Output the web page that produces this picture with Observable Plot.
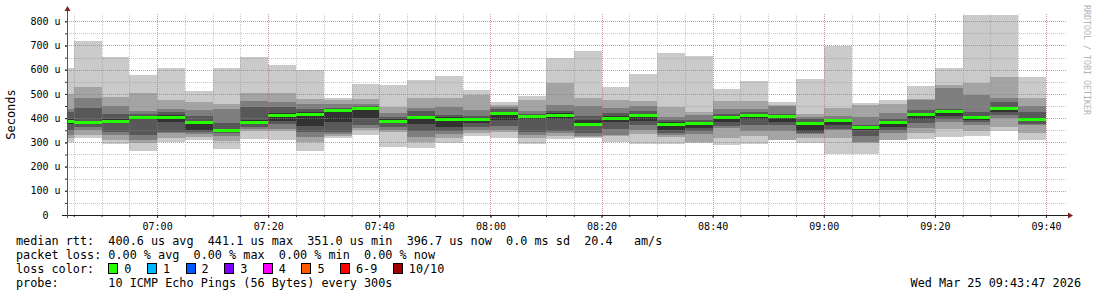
<!DOCTYPE html>
<html>
<head>
<meta charset="utf-8">
<script src="https://cdn.jsdelivr.net/npm/d3@7"></script>
<script src="https://cdn.jsdelivr.net/npm/@observablehq/plot@0.6"></script>
<style>
  html, body { margin: 0; padding: 0; background: #fff; }
  body { width: 1097px; height: 297px; overflow: hidden; position: relative; font-family: "DejaVu Sans Mono", monospace; }
  #chart { position: absolute; left: 0; top: 0; }
  .legend { position: absolute; left: 16px; top: 234px; font-size: 11.8px; line-height: 14px; white-space: pre; color: #000; }
  .date { position: absolute; right: 16px; top: 276px; font-size: 11.8px; line-height: 14px; white-space: pre; color: #000; }
  .box { display: inline-block; width: 8px; height: 9px; border: 1px solid #000; vertical-align: -1px; margin-right: 6px; }
  .item { margin-right: 15.5px; }
</style>
</head>
<body>
<div id="chart"></div>
<div class="legend" id="legend"></div>
<div class="date" id="date"></div>
<script>
// ---- data ----
const viewStart = "06:43:47";
const viewEnd = "09:43:47";
const dataEnd = "09:40:00";
const binStart = ["06:43:47","06:45","06:50","06:55","07:00","07:05","07:10","07:15","07:20","07:25","07:30","07:35",
  "07:40","07:45","07:50","07:55","08:00","08:05","08:10","08:15","08:20","08:25","08:30","08:35",
  "08:40","08:45","08:50","08:55","09:00","09:05","09:10","09:15","09:20","09:25","09:30","09:35"];
// sorted ping rtt per bin (microseconds), ping1 = fastest ... ping10 = slowest
const ping1  = [301,318,293,265,300,309,273,313,309,265,317,330,282,277,298,327,318,294,313,319,302,294,295,298,290,293,308,296,250,253,308,313,323,328,346,309];
const ping2  = [318,330,309,296,320,323,306,348,348,302,326,350,341,300,320,340,342,320,328,322,326,336,323,302,316,326,311,318,319,296,309,337,355,346,364,340];
const ping3  = [332,352,330,309,337,334,327,357,355,323,334,358,352,323,335,350,350,330,337,325,330,351,331,335,359,348,347,336,350,300,337,360,385,371,400,371];
const ping4  = [350,364,344,330,344,344,340,362,375,344,344,371,365,346,345,362,367,343,345,340,355,370,340,348,367,371,372,340,355,326,350,381,398,385,415,375];
const ping5  = [375,376,378,395,385,353,346,375,389,367,385,400,378,375,362,380,392,395,395,370,385,390,350,358,385,395,385,348,371,352,364,395,408,393,425,390];
const ping6  = [395,390,395,410,412,390,356,392,420,425,436,445,395,410,405,398,425,412,420,392,410,418,385,385,410,418,414,384,394,368,390,422,432,410,447,400];
const ping7  = [425,441,419,419,425,408,378,447,447,437,442,450,405,428,414,410,436,418,429,408,422,428,392,392,416,425,418,395,398,372,397,433,438,426,466,426];
const ping8  = [437,482,449,429,437,433,437,471,465,458,460,460,420,440,447,433,444,430,454,449,442,449,406,411,437,437,449,405,408,403,421,475,525,494,485,449];
const ping9  = [499,528,487,503,474,466,459,502,503,481,476,478,447,484,485,495,456,476,545,484,474,470,447,426,471,471,454,416,443,456,460,481,536,545,568,484];
const ping10 = [605,717,651,577,605,511,605,651,618,598,485,540,536,557,573,515,465,490,649,677,528,583,669,657,520,554,466,561,698,461,474,532,605,826,826,568];
const median = [387,383,389,404,405,383,352,384,412,416,433,440,388,405,398,397,421,408,415,377,402,411,374,381,405,413,408,378,392,364,385,417,429,405,441,397];

const yTicks = [0,100,200,300,400,500,600,700,800];
const yTickLabels = ["0\u00a0\u00a0","100 u","200 u","300 u","400 u","500 u","600 u","700 u","800 u"];
const xTickLabels = ["07:00","07:20","07:40","08:00","08:20","08:40","09:00","09:20","09:40"];
const lossLabels = ["0","1","2","3","4","5","6-9","10/10"];
const lossColors = ["#26ff00","#00b8ff","#0059ff","#7e00ff","#ff00ff","#ff5a00","#ff0000","#a10000"];
const smokeGray = ["#cacaca","#a4a4a4","#7e7e7e","#585858","#323232"];

// ---- build ----
const T = s => new Date(`2026-03-25T${s.length === 5 ? s + ":00" : s}Z`);
const starts = binStart.map(T);
const ends = starts.slice(1).concat([T(dataEnd)]);
const pings = [ping1, ping2, ping3, ping4, ping5, ping6, ping7, ping8, ping9, ping10];
const bins = starts.map((s, i) => ({start: s, end: ends[i], median: median[i]}));
const bands = smokeGray.map((c, k) => bins.map((b, i) => ({start: b.start, end: b.end, lo: pings[k][i], hi: pings[9 - k][i]})));

const tView0 = T(viewStart), tView1 = T(viewEnd);
const fiveMin = d3.utcMinute.every(5).range(tView0, tView1);
const twentyMin = xTickLabels.map(T);
const fiftyU = d3.range(50, 830, 50);

const gridMinor = {stroke: "#8f8f8f", strokeOpacity: 0.5, strokeDasharray: "1,1", shapeRendering: "crispEdges"};
const gridMajor = {stroke: "#de4f4f", strokeOpacity: 0.42, strokeDasharray: "1,1", shapeRendering: "crispEdges"};

const plot = Plot.plot({
  width: 1097, height: 233,
  marginLeft: 67, marginRight: 30, marginTop: 14, marginBottom: 18,
  x: {type: "utc", domain: [tView0, tView1]},
  y: {domain: [0, 830]},
  style: {fontFamily: "DejaVu Sans Mono, monospace", fontSize: "10px", background: "white", color: "black", overflow: "visible"},
  marks: [
    ...bands.map((band, k) => Plot.rect(band, {x1: "start", x2: "end", y1: "lo", y2: "hi", fill: smokeGray[k], shapeRendering: "crispEdges"})),
    Plot.ruleY(bins, {y: "median", x1: "start", x2: "end", stroke: "#26ff00", strokeWidth: 3, shapeRendering: "crispEdges"}),
    Plot.gridX(fiveMin, gridMinor),
    Plot.gridY(fiftyU, gridMinor),
    Plot.gridX(twentyMin, gridMajor),
    Plot.gridY(yTicks.filter(d => d > 0), gridMajor),
    Plot.axisY({ticks: fiftyU, tickSize: 2, tickFormat: () => "", stroke: "#333", label: null}),
    Plot.axisY({ticks: yTicks, tickSize: 2, tickPadding: 5, tickFormat: d => yTickLabels[yTicks.indexOf(d)], stroke: "#333", label: null}),
    Plot.axisX({ticks: fiveMin, tickSize: 2, tickFormat: () => "", stroke: "#333", label: null}),
    Plot.axisX({ticks: twentyMin, tickSize: 3, tickPadding: 4, tickFormat: d => xTickLabels[twentyMin.findIndex(t => +t === +d)], stroke: "#333", label: null})
  ]
});
document.getElementById("chart").append(plot);

// axis lines, arrows and side texts, positioned from the plot's scales
const sx = plot.scale("x"), sy = plot.scale("y");
const svgSel = d3.select(plot);
const pxLeft = sx.range[0], pxRight = sx.range[1];
const pxBottom = sy.range[0], pxTop = sy.range[1];
svgSel.append("line").attr("x1", pxLeft - 5).attr("x2", pxRight + 2).attr("y1", pxBottom + 0.5).attr("y2", pxBottom + 0.5).attr("stroke", "#1f1f1f");
svgSel.append("line").attr("x1", pxLeft + 0.5).attr("x2", pxLeft + 0.5).attr("y1", pxBottom + 3).attr("y2", pxTop - 4).attr("stroke", "#555");
svgSel.append("path").attr("d", `M${pxRight + 1},${pxBottom - 2.5}L${pxRight + 6},${pxBottom + 0.5}L${pxRight + 1},${pxBottom + 3.5}Z`).attr("fill", "#801f1f");
svgSel.append("path").attr("d", `M${pxLeft - 2.5},${pxTop - 3}L${pxLeft + 0.5},${pxTop - 8}L${pxLeft + 3.5},${pxTop - 3}Z`).attr("fill", "#801f1f");
svgSel.append("text").attr("transform", `translate(10.5,${(pxTop + pxBottom) / 2}) rotate(-90)`)
  .attr("text-anchor", "middle").attr("dominant-baseline", "central")
  .attr("font-family", "DejaVu Sans Mono, monospace").attr("font-size", 12).attr("fill", "#000").text("Seconds");
svgSel.append("text").attr("transform", `translate(1087,5) rotate(90)`)
  .attr("text-anchor", "start").attr("dominant-baseline", "central")
  .attr("font-family", "DejaVu Sans Mono, monospace").attr("font-size", 8.3).attr("fill", "#b4b4b4").text("RRDTOOL / TOBI OETIKER");

// legend text
const legendEl = document.getElementById("legend");
const l1 = document.createElement("div");
l1.textContent = "median rtt:  400.6 us avg  441.1 us max  351.0 us min  396.7 us now  0.0 ms sd  20.4   am/s";
const l2 = document.createElement("div");
l2.textContent = "packet loss: 0.00 % avg  0.00 % max  0.00 % min  0.00 % now";
const l3 = document.createElement("div");
l3.append("loss color:  ");
lossLabels.forEach((lab, i) => {
  const box = document.createElement("span");
  box.className = "box"; box.style.background = lossColors[i];
  const t = document.createElement("span");
  t.className = "item"; t.textContent = lab;
  l3.append(box, t);
});
const l4 = document.createElement("div");
l4.textContent = "probe:       10 ICMP Echo Pings (56 Bytes) every 300s";
legendEl.append(l1, l2, l3, l4);
document.getElementById("date").textContent = "Wed Mar 25 09:43:47 2026";
</script>
</body>
</html>
